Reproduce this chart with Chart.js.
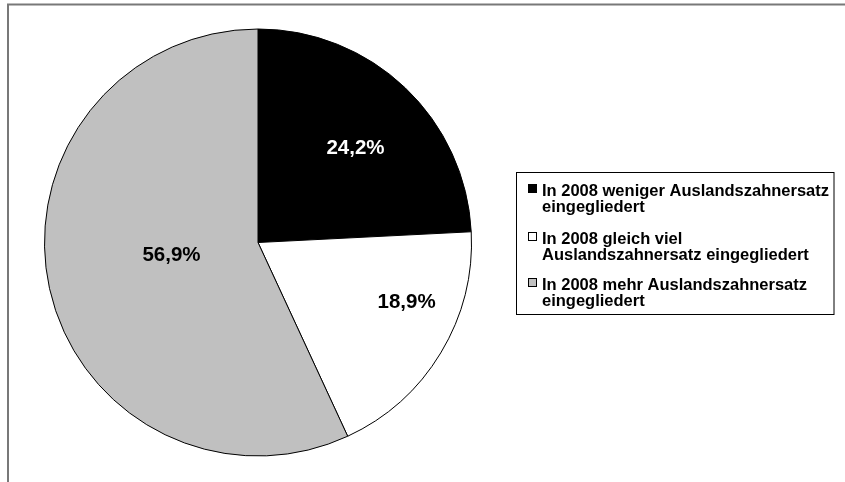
<!DOCTYPE html>
<html>
<head>
<meta charset="utf-8">
<script src="https://cdn.jsdelivr.net/npm/chart.js@4.4.1/dist/chart.umd.min.js"></script>
<style>
  html, body { margin: 0; padding: 0; background: #fff; }
  #wrap { position: relative; width: 845px; height: 482px; }
</style>
</head>
<body>
<div id="wrap"><canvas id="c" width="845" height="482"></canvas></div>
<script>
// ---- data ----
const categories = [
  ["In 2008 weniger Auslandszahnersatz", "eingegliedert"],
  ["In 2008 gleich viel", "Auslandszahnersatz eingegliedert"],
  ["In 2008 mehr Auslandszahnersatz", "eingegliedert"]
];
const shares = [24.2, 18.9, 56.9];
const sliceColors = ["#000000", "#ffffff", "#c0c0c0"];
const labelTextColors = ["#ffffff", "#000000", "#000000"];

const FONT = '"Liberation Sans", Arial, sans-serif';

// label placement relative to each arc (fraction of radius, angle tweak in degrees)
const labelPlacement = [
  { f: 0.635, dAng: 2.4 },
  { f: 0.75, dAng: -9.3 },
  { f: 0.41, dAng: 3.8 }
];

const framePlugin = {
  id: 'frame',
  beforeDraw(chart) {
    const ctx = chart.ctx;
    ctx.save();
    ctx.fillStyle = '#fff';
    ctx.fillRect(0, 0, chart.width, chart.height);
    ctx.strokeStyle = '#787878';
    ctx.lineWidth = 2;
    ctx.beginPath();
    ctx.moveTo(8, chart.height);
    ctx.lineTo(8, 4.5);
    ctx.lineTo(chart.width, 4.5);
    ctx.stroke();
    ctx.restore();
  }
};

const labelsPlugin = {
  id: 'sliceLabels',
  afterDatasetsDraw(chart) {
    const ctx = chart.ctx;
    const meta = chart.getDatasetMeta(0);
    ctx.save();
    ctx.font = 'bold 20.5px ' + FONT;
    ctx.textAlign = 'center';
    ctx.textBaseline = 'middle';
    meta.data.forEach((arc, i) => {
      const p = arc.getProps(['x', 'y', 'startAngle', 'endAngle', 'outerRadius']);
      const mid = (p.startAngle + p.endAngle) / 2 + labelPlacement[i].dAng * Math.PI / 180;
      const r = p.outerRadius * labelPlacement[i].f;
      const x = p.x + Math.cos(mid) * r;
      const y = p.y + Math.sin(mid) * r;
      ctx.fillStyle = labelTextColors[i];
      ctx.fillText(shares[i].toFixed(1).replace('.', ',') + '%', x, y);
    });
    ctx.restore();
  }
};

const legendPlugin = {
  id: 'boxLegend',
  afterDraw(chart) {
    const ctx = chart.ctx;
    const bx = 516.5, by = 172.5, bw = 317.5, bh = 142;
    ctx.save();
    ctx.strokeStyle = '#000';
    ctx.lineWidth = 1;
    ctx.strokeRect(bx, by, bw, bh);
    ctx.font = 'bold 16.5px ' + FONT;
    ctx.textAlign = 'left';
    ctx.textBaseline = 'alphabetic';
    const entryTops = [196, 244, 290];
    const lineGap = 16;
    chart.data.labels.forEach((lab, i) => {
      const base = entryTops[i];
      ctx.fillStyle = sliceColors[i];
      ctx.fillRect(528.5, base - 11.5, 8, 8);
      ctx.strokeStyle = '#000';
      ctx.strokeRect(528.5, base - 11.5, 8, 8);
      ctx.fillStyle = '#000';
      lab.forEach((line, j) => {
        ctx.fillText(line, 542, base + j * lineGap, 288);
      });
    });
    ctx.restore();
  }
};

new Chart(document.getElementById('c'), {
  type: 'pie',
  data: {
    labels: categories,
    datasets: [{
      data: shares,
      backgroundColor: sliceColors,
      borderColor: '#000',
      borderWidth: 1,
      hoverOffset: 0
    }]
  },
  options: {
    responsive: false,
    animation: false,
    events: [],
    layout: { padding: { left: 44, right: 373, top: 28, bottom: 25 } },
    plugins: {
      legend: { display: false },
      tooltip: { enabled: false }
    }
  },
  plugins: [framePlugin, labelsPlugin, legendPlugin]
});
</script>
</body>
</html>
